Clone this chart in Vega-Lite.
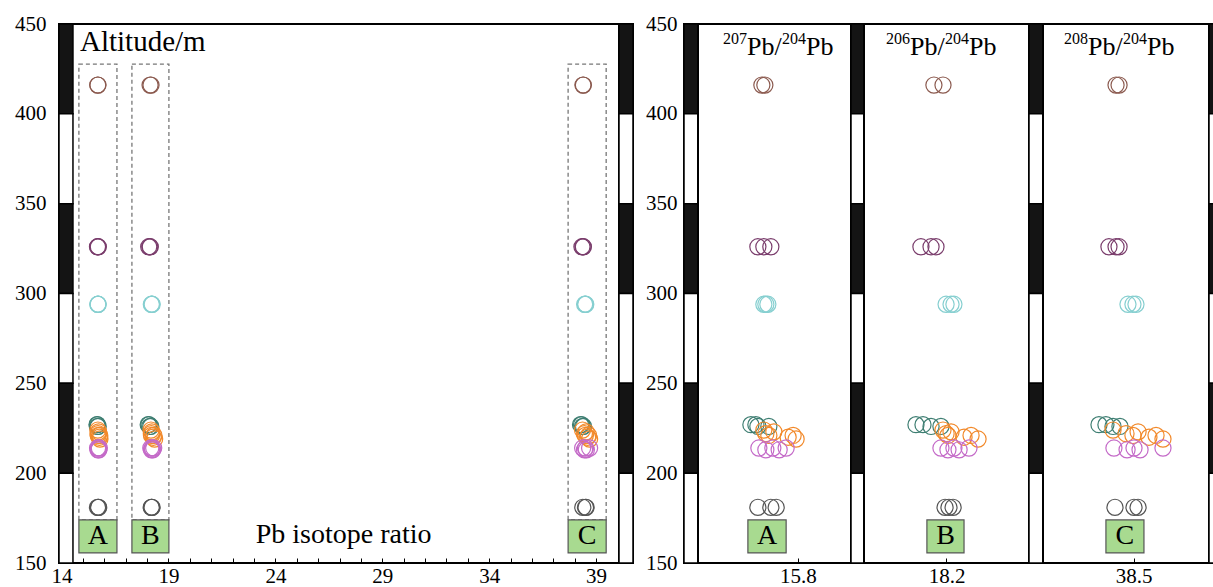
{
  "$schema": "https://vega.github.io/schema/vega-lite/v6.json",
  "padding": {"left": 13, "top": 12, "right": 0, "bottom": 0},
  "background": "white",
  "config": {
    "view": {"stroke": "black", "strokeWidth": 2},
    "font": "Liberation Serif",
    "text": {"font": "Liberation Serif", "color": "black"},
    "axis": {"labelFont": "Liberation Serif", "labelFontSize": 21, "labelColor": "black", "grid": false, "domain": false, "labelFlush": false, "labelOverlap": false, "labelBound": false, "tickColor": "black", "tickWidth": 1}
  },
  "datasets": {
    "strat": [
      {"bottom": 400, "top": 450, "kind": "dark"},
      {"bottom": 350, "top": 400, "kind": "light"},
      {"bottom": 300, "top": 350, "kind": "dark"},
      {"bottom": 250, "top": 300, "kind": "light"},
      {"bottom": 200, "top": 250, "kind": "dark"},
      {"bottom": 150, "top": 200, "kind": "light"}
    ],
    "samples": [
      {"g": "g1", "alt": 416, "a": 15.692, "b": 18.139, "c": 38.384},
      {"g": "g1", "alt": 416, "a": 15.701, "b": 18.183, "c": 38.404},
      {"g": "g2", "alt": 326, "a": 15.680, "b": 18.076, "c": 38.337},
      {"g": "g2", "alt": 326, "a": 15.698, "b": 18.125, "c": 38.384},
      {"g": "g2", "alt": 326, "a": 15.719, "b": 18.149, "c": 38.404},
      {"g": "g3", "alt": 294, "a": 15.698, "b": 18.198, "c": 38.463},
      {"g": "g3", "alt": 294, "a": 15.704, "b": 18.222, "c": 38.496},
      {"g": "g3", "alt": 294, "a": 15.710, "b": 18.236, "c": 38.516},
      {"g": "g4", "alt": 227, "a": 15.659, "b": 18.052, "c": 38.271},
      {"g": "g4", "alt": 227, "a": 15.674, "b": 18.086, "c": 38.317},
      {"g": "g4", "alt": 226, "a": 15.680, "b": 18.125, "c": 38.364},
      {"g": "g4", "alt": 226, "a": 15.713, "b": 18.173, "c": 38.410},
      {"g": "g5", "alt": 224, "a": 15.698, "b": 18.183, "c": 38.364},
      {"g": "g5", "alt": 222, "a": 15.704, "b": 18.198, "c": 38.450},
      {"g": "g5", "alt": 221, "a": 15.713, "b": 18.207, "c": 38.496},
      {"g": "g5", "alt": 223, "a": 15.728, "b": 18.222, "c": 38.530},
      {"g": "g5", "alt": 220, "a": 15.771, "b": 18.285, "c": 38.602},
      {"g": "g5", "alt": 221, "a": 15.786, "b": 18.319, "c": 38.649},
      {"g": "g5", "alt": 219, "a": 15.795, "b": 18.353, "c": 38.695},
      {"g": "g6", "alt": 214, "a": 15.683, "b": 18.173, "c": 38.370},
      {"g": "g6", "alt": 213, "a": 15.704, "b": 18.207, "c": 38.457},
      {"g": "g6", "alt": 214, "a": 15.725, "b": 18.236, "c": 38.503},
      {"g": "g6", "alt": 213, "a": 15.744, "b": 18.261, "c": 38.543},
      {"g": "g6", "alt": 214, "a": 15.765, "b": 18.309, "c": 38.695},
      {"g": "g7", "alt": 181, "a": 15.680, "b": 18.193, "c": 38.377},
      {"g": "g7", "alt": 181, "a": 15.719, "b": 18.212, "c": 38.503},
      {"g": "g7", "alt": 181, "a": 15.735, "b": 18.232, "c": 38.530}
    ],
    "mainLabels": [
      {"lab": "A", "x1": 14.81, "x2": 16.59, "xc": 15.70},
      {"lab": "B", "x1": 17.29, "x2": 19.02, "xc": 18.155},
      {"lab": "C", "x1": 37.69, "x2": 39.47, "xc": 38.58}
    ]
  },
  "hconcat": [
    {
      "width": 560, "height": 539,
      "resolve": {"axis": {"x": "independent"}},
      "layer": [
        {
          "data": {"name": "strat"},
          "mark": {"type": "rect", "stroke": "black", "strokeWidth": 1.5},
          "encoding": {
            "x": {"datum": 13.88, "type": "quantitative",
                  "scale": {"domain": [13.88, 40.07], "nice": false, "zero": false},
                  "axis": {"title": null, "orient": "bottom", "values": [14,15,16,17,18,19,20,21,22,23,24,25,26,27,28,29,30,31,32,33,34,35,36,37,38,39,40],
                           "labels": false, "tickSize": -5}},
            "x2": {"datum": 14.533},
            "y": {"field": "bottom", "type": "quantitative",
                  "scale": {"domain": [150, 450], "nice": false, "zero": false},
                  "axis": {"title": null, "values": [150,200,250,300,350,400,450], "ticks": false, "tickSize": 0, "labelPadding": 13}},
            "y2": {"field": "top"},
            "fill": {"field": "kind", "type": "nominal", "scale": {"domain": ["dark", "light"], "range": ["#141414", "#ffffff"]}, "legend": null}
          }
        },
        {
          "data": {"name": "mainLabels"},
          "mark": {"type": "rect", "fill": "white", "fillOpacity": 0, "stroke": "#777777", "strokeWidth": 1.3, "strokeDash": [4, 3]},
          "encoding": {
            "x": {"field": "x1", "type": "quantitative", "axis": null},
            "x2": {"field": "x2"},
            "y": {"datum": 174, "type": "quantitative"},
            "y2": {"datum": 427.7}
          }
        },
        {
          "data": {"name": "samples"},
          "transform": [{"fold": ["a", "b", "c"], "as": ["ratio", "value"]}],
          "mark": {"type": "point", "shape": "circle", "filled": false, "size": 260, "strokeWidth": 1.2, "opacity": 1},
          "encoding": {
            "x": {"field": "value", "type": "quantitative",
                  "axis": {"title": null, "orient": "bottom", "values": [14, 19, 24, 29, 34, 39], "ticks": false, "tickSize": 0, "labelPadding": 2}},
            "y": {"field": "alt", "type": "quantitative"},
            "stroke": {"field": "g", "type": "nominal",
                       "scale": {"domain": ["g1","g2","g3","g4","g5","g6","g7"], "range": ["#8b5a4f","#7a3d6c","#86cfd0","#3e7e72","#f2892a","#c46ac8","#555555"]},
                       "legend": null}
          }
        },
        {
          "data": {"name": "mainLabels"},
          "mark": {"type": "rect", "fill": "#a8da90", "stroke": "#555555", "strokeWidth": 1.2},
          "encoding": {
            "x": {"field": "x1", "type": "quantitative", "axis": null},
            "x2": {"field": "x2"},
            "y": {"datum": 155.6, "type": "quantitative"},
            "y2": {"datum": 174}
          }
        },
        {
          "data": {"name": "mainLabels"},
          "mark": {"type": "text", "fontSize": 28, "align": "center", "baseline": "middle"},
          "encoding": {
            "text": {"field": "lab"},
            "x": {"field": "xc", "type": "quantitative", "axis": null},
            "y": {"datum": 164.8, "type": "quantitative"}
          }
        },
        {
          "data": {"values": [{"t": "Altitude/m"}]},
          "mark": {"type": "text", "fontSize": 29, "align": "left", "baseline": "alphabetic"},
          "encoding": {
            "text": {"field": "t"},
            "x": {"datum": 14.86, "type": "quantitative", "axis": null},
            "y": {"datum": 435, "type": "quantitative"}
          }
        },
        {
          "data": {"values": [{"t": "Pb isotope ratio"}]},
          "mark": {"type": "text", "fontSize": 28, "align": "center", "baseline": "alphabetic"},
          "encoding": {
            "text": {"field": "t"},
            "x": {"datum": 27.19, "type": "quantitative", "axis": null},
            "y": {"datum": 161.2, "type": "quantitative"}
          }
        }
      ]
    },
    {
      "width": 14, "height": 539,
      "data": {"name": "strat"},
      "mark": {"type": "rect", "stroke": "black", "strokeWidth": 1.5},
      "encoding": {
        "y": {"field": "bottom", "type": "quantitative", "scale": {"domain": [150, 450], "nice": false, "zero": false}, "axis": null},
        "y2": {"field": "top"},
        "fill": {"field": "kind", "type": "nominal", "scale": {"domain": ["dark", "light"], "range": ["#141414", "#ffffff"]}, "legend": null}
      }
    },
    {
      "width": 51, "height": 539,
      "view": {"stroke": null},
      "data": {"values": [{}]},
      "mark": {"type": "text"},
      "encoding": {"text": {"value": ""}}
    },
    {
      "width": 14, "height": 539,
      "data": {"name": "strat"},
      "mark": {"type": "rect", "stroke": "black", "strokeWidth": 1.5},
      "encoding": {
        "y": {"field": "bottom", "type": "quantitative", "scale": {"domain": [150, 450], "nice": false, "zero": false},
              "axis": {"title": null, "values": [150,200,250,300,350,400,450], "ticks": false, "tickSize": 0, "labelPadding": 7}},
        "y2": {"field": "top"},
        "fill": {"field": "kind", "type": "nominal", "scale": {"domain": ["dark", "light"], "range": ["#141414", "#ffffff"]}, "legend": null}
      }
    },
    {
      "width": 153, "height": 539,
      "layer": [
        {
          "data": {"name": "samples"},
          "mark": {"type": "point", "shape": "circle", "filled": false, "size": 260, "strokeWidth": 1.2, "opacity": 1},
          "encoding": {
            "x": {"field": "a", "type": "quantitative", "scale": {"domain": [15.5, 15.96], "nice": false, "zero": false},
                  "axis": {"title": null, "values": [15.8], "format": ".1f", "tickSize": -5, "labelPadding": 7}},
            "y": {"field": "alt", "type": "quantitative", "scale": {"domain": [150, 450], "nice": false, "zero": false}, "axis": null},
            "stroke": {"field": "g", "type": "nominal",
                       "scale": {"domain": ["g1","g2","g3","g4","g5","g6","g7"], "range": ["#8b5a4f","#7a3d6c","#86cfd0","#3e7e72","#f2892a","#c46ac8","#555555"]},
                       "legend": null}
          }
        },
        {
          "data": {"values": [{"lab": "A", "x1": 15.650, "x2": 15.765, "xc": 15.7075}]},
          "mark": {"type": "rect", "fill": "#a8da90", "stroke": "#555555", "strokeWidth": 1.2},
          "encoding": {"x": {"field": "x1", "type": "quantitative"}, "x2": {"field": "x2"}, "y": {"datum": 155.6, "type": "quantitative"}, "y2": {"datum": 174}}
        },
        {
          "data": {"values": [{"lab": "A", "x1": 15.650, "x2": 15.765, "xc": 15.7075}]},
          "mark": {"type": "text", "fontSize": 28, "align": "center", "baseline": "middle"},
          "encoding": {"text": {"field": "lab"}, "x": {"field": "xc", "type": "quantitative"}, "y": {"datum": 164.8, "type": "quantitative"}}
        },
        {
          "data": {"values": [{"t": "207"}]},
          "mark": {"type": "text", "fontSize": 16, "align": "left", "baseline": "alphabetic", "dy": -11},
          "encoding": {"text": {"field": "t"}, "x": {"datum": 15.575, "type": "quantitative"}, "y": {"datum": 432.7, "type": "quantitative"}}
        },
        {
          "data": {"values": [{"t": "Pb/"}]},
          "mark": {"type": "text", "fontSize": 26, "align": "left", "baseline": "alphabetic", "dx": 24},
          "encoding": {"text": {"field": "t"}, "x": {"datum": 15.575, "type": "quantitative"}, "y": {"datum": 432.7, "type": "quantitative"}}
        },
        {
          "data": {"values": [{"t": "204"}]},
          "mark": {"type": "text", "fontSize": 16, "align": "left", "baseline": "alphabetic", "dx": 59, "dy": -11},
          "encoding": {"text": {"field": "t"}, "x": {"datum": 15.575, "type": "quantitative"}, "y": {"datum": 432.7, "type": "quantitative"}}
        },
        {
          "data": {"values": [{"t": "Pb"}]},
          "mark": {"type": "text", "fontSize": 26, "align": "left", "baseline": "alphabetic", "dx": 83},
          "encoding": {"text": {"field": "t"}, "x": {"datum": 15.575, "type": "quantitative"}, "y": {"datum": 432.7, "type": "quantitative"}}
        }
      ]
    },
    {
      "width": 13, "height": 539,
      "data": {"name": "strat"},
      "mark": {"type": "rect", "stroke": "black", "strokeWidth": 1.5},
      "encoding": {
        "y": {"field": "bottom", "type": "quantitative", "scale": {"domain": [150, 450], "nice": false, "zero": false}, "axis": null},
        "y2": {"field": "top"},
        "fill": {"field": "kind", "type": "nominal", "scale": {"domain": ["dark", "light"], "range": ["#141414", "#ffffff"]}, "legend": null}
      }
    },
    {
      "width": 165, "height": 539,
      "layer": [
        {
          "data": {"name": "samples"},
          "mark": {"type": "point", "shape": "circle", "filled": false, "size": 260, "strokeWidth": 1.2, "opacity": 1},
          "encoding": {
            "x": {"field": "b", "type": "quantitative", "scale": {"domain": [17.8, 18.6], "nice": false, "zero": false},
                  "axis": {"title": null, "values": [18.2], "format": ".1f", "tickSize": -5, "labelPadding": 7}},
            "y": {"field": "alt", "type": "quantitative", "scale": {"domain": [150, 450], "nice": false, "zero": false}, "axis": null},
            "stroke": {"field": "g", "type": "nominal",
                       "scale": {"domain": ["g1","g2","g3","g4","g5","g6","g7"], "range": ["#8b5a4f","#7a3d6c","#86cfd0","#3e7e72","#f2892a","#c46ac8","#555555"]},
                       "legend": null}
          }
        },
        {
          "data": {"values": [{"lab": "B", "x1": 18.105, "x2": 18.285, "xc": 18.195}]},
          "mark": {"type": "rect", "fill": "#a8da90", "stroke": "#555555", "strokeWidth": 1.2},
          "encoding": {"x": {"field": "x1", "type": "quantitative"}, "x2": {"field": "x2"}, "y": {"datum": 155.6, "type": "quantitative"}, "y2": {"datum": 174}}
        },
        {
          "data": {"values": [{"lab": "B", "x1": 18.105, "x2": 18.285, "xc": 18.195}]},
          "mark": {"type": "text", "fontSize": 28, "align": "center", "baseline": "middle"},
          "encoding": {"text": {"field": "lab"}, "x": {"field": "xc", "type": "quantitative"}, "y": {"datum": 164.8, "type": "quantitative"}}
        },
        {
          "data": {"values": [{"t": "206"}]},
          "mark": {"type": "text", "fontSize": 16, "align": "left", "baseline": "alphabetic", "dy": -11},
          "encoding": {"text": {"field": "t"}, "x": {"datum": 17.907, "type": "quantitative"}, "y": {"datum": 432.7, "type": "quantitative"}}
        },
        {
          "data": {"values": [{"t": "Pb/"}]},
          "mark": {"type": "text", "fontSize": 26, "align": "left", "baseline": "alphabetic", "dx": 24},
          "encoding": {"text": {"field": "t"}, "x": {"datum": 17.907, "type": "quantitative"}, "y": {"datum": 432.7, "type": "quantitative"}}
        },
        {
          "data": {"values": [{"t": "204"}]},
          "mark": {"type": "text", "fontSize": 16, "align": "left", "baseline": "alphabetic", "dx": 59, "dy": -11},
          "encoding": {"text": {"field": "t"}, "x": {"datum": 17.907, "type": "quantitative"}, "y": {"datum": 432.7, "type": "quantitative"}}
        },
        {
          "data": {"values": [{"t": "Pb"}]},
          "mark": {"type": "text", "fontSize": 26, "align": "left", "baseline": "alphabetic", "dx": 83},
          "encoding": {"text": {"field": "t"}, "x": {"datum": 17.907, "type": "quantitative"}, "y": {"datum": 432.7, "type": "quantitative"}}
        }
      ]
    },
    {
      "width": 14, "height": 539,
      "data": {"name": "strat"},
      "mark": {"type": "rect", "stroke": "black", "strokeWidth": 1.5},
      "encoding": {
        "y": {"field": "bottom", "type": "quantitative", "scale": {"domain": [150, 450], "nice": false, "zero": false}, "axis": null},
        "y2": {"field": "top"},
        "fill": {"field": "kind", "type": "nominal", "scale": {"domain": ["dark", "light"], "range": ["#141414", "#ffffff"]}, "legend": null}
      }
    },
    {
      "width": 166, "height": 539,
      "layer": [
        {
          "data": {"name": "samples"},
          "mark": {"type": "point", "shape": "circle", "filled": false, "size": 260, "strokeWidth": 1.2, "opacity": 1},
          "encoding": {
            "x": {"field": "c", "type": "quantitative", "scale": {"domain": [37.9, 39.0], "nice": false, "zero": false},
                  "axis": {"title": null, "values": [38.5], "format": ".1f", "tickSize": -5, "labelPadding": 7}},
            "y": {"field": "alt", "type": "quantitative", "scale": {"domain": [150, 450], "nice": false, "zero": false}, "axis": null},
            "stroke": {"field": "g", "type": "nominal",
                       "scale": {"domain": ["g1","g2","g3","g4","g5","g6","g7"], "range": ["#8b5a4f","#7a3d6c","#86cfd0","#3e7e72","#f2892a","#c46ac8","#555555"]},
                       "legend": null}
          }
        },
        {
          "data": {"values": [{"lab": "C", "x1": 38.317, "x2": 38.569, "xc": 38.443}]},
          "mark": {"type": "rect", "fill": "#a8da90", "stroke": "#555555", "strokeWidth": 1.2},
          "encoding": {"x": {"field": "x1", "type": "quantitative"}, "x2": {"field": "x2"}, "y": {"datum": 155.6, "type": "quantitative"}, "y2": {"datum": 174}}
        },
        {
          "data": {"values": [{"lab": "C", "x1": 38.317, "x2": 38.569, "xc": 38.443}]},
          "mark": {"type": "text", "fontSize": 28, "align": "center", "baseline": "middle"},
          "encoding": {"text": {"field": "lab"}, "x": {"field": "xc", "type": "quantitative"}, "y": {"datum": 164.8, "type": "quantitative"}}
        },
        {
          "data": {"values": [{"t": "208"}]},
          "mark": {"type": "text", "fontSize": 16, "align": "left", "baseline": "alphabetic", "dy": -11},
          "encoding": {"text": {"field": "t"}, "x": {"datum": 38.039, "type": "quantitative"}, "y": {"datum": 432.7, "type": "quantitative"}}
        },
        {
          "data": {"values": [{"t": "Pb/"}]},
          "mark": {"type": "text", "fontSize": 26, "align": "left", "baseline": "alphabetic", "dx": 24},
          "encoding": {"text": {"field": "t"}, "x": {"datum": 38.039, "type": "quantitative"}, "y": {"datum": 432.7, "type": "quantitative"}}
        },
        {
          "data": {"values": [{"t": "204"}]},
          "mark": {"type": "text", "fontSize": 16, "align": "left", "baseline": "alphabetic", "dx": 59, "dy": -11},
          "encoding": {"text": {"field": "t"}, "x": {"datum": 38.039, "type": "quantitative"}, "y": {"datum": 432.7, "type": "quantitative"}}
        },
        {
          "data": {"values": [{"t": "Pb"}]},
          "mark": {"type": "text", "fontSize": 26, "align": "left", "baseline": "alphabetic", "dx": 83},
          "encoding": {"text": {"field": "t"}, "x": {"datum": 38.039, "type": "quantitative"}, "y": {"datum": 432.7, "type": "quantitative"}}
        }
      ]
    },
    {
      "width": 6, "height": 539,
      "data": {"name": "strat"},
      "mark": {"type": "rect", "stroke": "black", "strokeWidth": 1.5},
      "encoding": {
        "y": {"field": "bottom", "type": "quantitative", "scale": {"domain": [150, 450], "nice": false, "zero": false}, "axis": null},
        "y2": {"field": "top"},
        "fill": {"field": "kind", "type": "nominal", "scale": {"domain": ["dark", "light"], "range": ["#141414", "#ffffff"]}, "legend": null}
      }
    }
  ],
  "spacing": 0,
  "bounds": "flush"
}
